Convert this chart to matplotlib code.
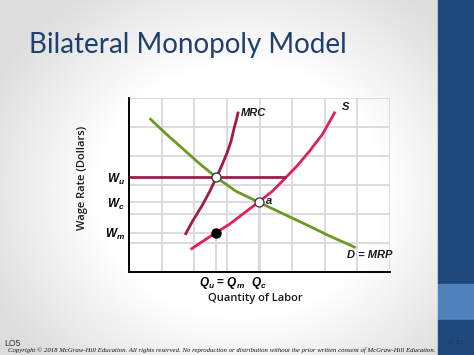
import numpy as np
import matplotlib
matplotlib.use("Agg")
import matplotlib.pyplot as plt
import matplotlib.transforms as mtransforms

# ---------------- data ----------------
title = "Bilateral Monopoly Model"
x_label = "Quantity of Labor"
y_label = "Wage Rate (Dollars)"

# D = MRP curve
d_x = [0.63, 1.12, 1.64, 2.15, 2.68, 3.27, 3.97, 4.70, 5.42, 6.13, 6.95]
d_y = [5.30, 4.78, 4.26, 3.75, 3.26, 2.79, 2.41, 2.02, 1.64, 1.25, 0.84]
# S curve
s_x = [1.89, 2.25, 2.67, 3.07, 3.48, 3.97, 4.40, 4.81, 5.16, 5.52, 5.93, 6.32]
s_y = [0.78, 1.05, 1.36, 1.64, 1.99, 2.41, 2.79, 3.26, 3.67, 4.15, 4.75, 5.53]
# MRC curve
mrc_x = [1.72, 1.94, 2.25, 2.47, 2.68, 2.86, 3.02, 3.13, 3.22, 3.29, 3.35]
mrc_y = [1.28, 1.74, 2.31, 2.77, 3.26, 3.71, 4.15, 4.52, 4.95, 5.24, 5.53]

q_u, q_c = 2.68, 3.97
w_u, w_c, w_m = 3.26, 2.41, 1.36
wu_line_end = 4.81

x_tick_pos = [q_u, q_c]
x_tick_labels = [r"$Q_u$ = $Q_m$", r"$Q_c$"]
y_tick_pos = [w_u, w_c, w_m]
y_tick_labels = [r"$W_u$", r"$W_c$", r"$W_m$"]

copyright_text = ("Copyright \u00a9 2018 McGraw-Hill Education. All rights reserved. "
                  "No reproduction or distribution without the prior written consent of McGraw-Hill Education.")

# ---------------- style ----------------
plt.rcParams["mathtext.fontset"] = "custom"
plt.rcParams["mathtext.it"] = "Liberation Sans:italic:bold"
plt.rcParams["mathtext.rm"] = "Liberation Sans:bold"
plt.rcParams["mathtext.bf"] = "Liberation Sans:bold"

W, H = 474, 355
fig = plt.figure(figsize=(W / 100, H / 100), dpi=100)

# background with vignette
bg = fig.add_axes([0, 0, 1, 1])
bg.set_xlim(0, W)
bg.set_ylim(H, 0)
bg.axis("off")
yy, xx = np.mgrid[0:H, 0:W]
r = np.sqrt(((xx - 240) / 260.0) ** 2 + ((yy - 190) / 230.0) ** 2)
v = 1 - 0.13 * np.clip((r - 0.55) / 0.5, 0, 1)
img = np.dstack([v, v, v])
bg.imshow(img, extent=(0, W, H, 0), aspect="auto", zorder=0)
# right blue bar
bg.add_patch(plt.Rectangle((438, 0), 36, 284, color="#1f497d", zorder=1))
bg.add_patch(plt.Rectangle((438, 284), 36, 36, color="#4f81bd", zorder=1))
bg.add_patch(plt.Rectangle((438, 320), 36, 35, color="#1f497d", zorder=1))
bg.text(455, 342, "17-20", fontsize=4, color="#16305a", ha="center", va="center", zorder=2)
bg.text(29, 45, title, fontsize=20, color="#1f3f6e", family="Lato", ha="left", va="center", zorder=2)
bg.text(4, 343, "LO5", fontsize=6.3, color="#333333", family="Liberation Sans", ha="left", va="center", zorder=2)
bg.text(8, 350.5, copyright_text, fontsize=4.85, color="#111111", family="Liberation Serif",
        style="italic", ha="left", va="center", zorder=2)

# ---------------- chart ----------------
left, right, top, bottom = 129, 390, 98, 272
ax = fig.add_axes([left / W, 1 - bottom / H, (right - left) / W, (bottom - top) / H])
ax.patch.set_alpha(0)
ax.set_xlim(0, 8)
ax.set_ylim(0, 6)

ax.set_xticks(np.arange(0, 9), minor=True)
ax.set_yticks(np.arange(0, 7), minor=True)
ax.grid(which="minor", color="#d9d9d9", linewidth=1.3, zorder=0)
ax.set_axisbelow(True)
for s in ["top", "right"]:
    ax.spines[s].set_visible(False)
for s in ["left", "bottom"]:
    ax.spines[s].set_linewidth(1.4)
    ax.spines[s].set_color("black")
ax.tick_params(which="both", length=0)

ax.set_xticks(x_tick_pos)
ax.set_xticklabels(x_tick_labels, fontsize=8.5, family="Liberation Sans", weight="bold")
ax.set_yticks(y_tick_pos)
ax.set_yticklabels(y_tick_labels, fontsize=8.5)
ax.tick_params(axis="x", pad=2)
ax.tick_params(axis="y", pad=3)
# first x label sits a bit right of its tick in the reference
lbl0 = ax.get_xticklabels()[0]
lbl0.set_transform(lbl0.get_transform() + mtransforms.ScaledTranslation(6 / 100, 0, fig.dpi_scale_trans))

# guide lines
ax.plot([q_u, q_u], [0, w_m], color="#d9d9d9", lw=1.3, zorder=1)
ax.plot([q_c, q_c], [0, w_c], color="#d9d9d9", lw=1.3, zorder=1)
ax.plot([0, q_c], [w_c, w_c], color="#d9d9d9", lw=1.3, zorder=1)
ax.plot([0, q_u], [w_m, w_m], color="#d9d9d9", lw=1.3, zorder=1)

green = "#6a9a23"
maroon = "#9e1b4b"
pink = "#e0205a"
ax.plot(d_x, d_y, color=green, lw=2.0, solid_capstyle="butt", solid_joinstyle="round", zorder=3)
ax.plot(s_x, s_y, color=pink, lw=2.0, solid_capstyle="butt", solid_joinstyle="round", zorder=3)
ax.plot(mrc_x, mrc_y, color=maroon, lw=2.0, solid_capstyle="butt", solid_joinstyle="round", zorder=3)
ax.plot([0, wu_line_end], [w_u, w_u], color=maroon, lw=2.0, solid_capstyle="butt", zorder=3)

ax.plot([q_u], [w_u], "o", ms=6.5, mfc="white", mec="#333333", mew=0.9, zorder=5)
ax.plot([q_c], [w_c], "o", ms=6.5, mfc="white", mec="#333333", mew=0.9, zorder=5)
ax.plot([q_u], [w_m], "o", ms=6.5, mfc="black", mec="black", zorder=5)

lab = dict(fontsize=8, family="Liberation Sans", weight="bold", style="italic", color="#1a1a1a")
ax.text(mrc_x[-1] + 0.07, mrc_y[-1] - 0.05, "MRC", ha="left", va="center", **lab)
ax.text(s_x[-1] + 0.2, s_y[-1] + 0.15, "S", ha="left", va="center", **lab)
ax.text(q_c + 0.22, w_c + 0.05, "a", ha="left", va="center", **lab)
ax.text(6.67, 0.57, "D = MRP", ha="left", va="center", **lab)

fig.text(255 / W, 1 - 298 / H, x_label, fontsize=8, family="Open Sans", weight="semibold",
         ha="center", va="center", color="#1a1a1a")
fig.text(82 / W, 1 - 178 / H, y_label, fontsize=8, family="Open Sans", weight="semibold",
         ha="center", va="center", rotation=90, color="#1a1a1a")

fig.savefig("out.png", dpi=100)
